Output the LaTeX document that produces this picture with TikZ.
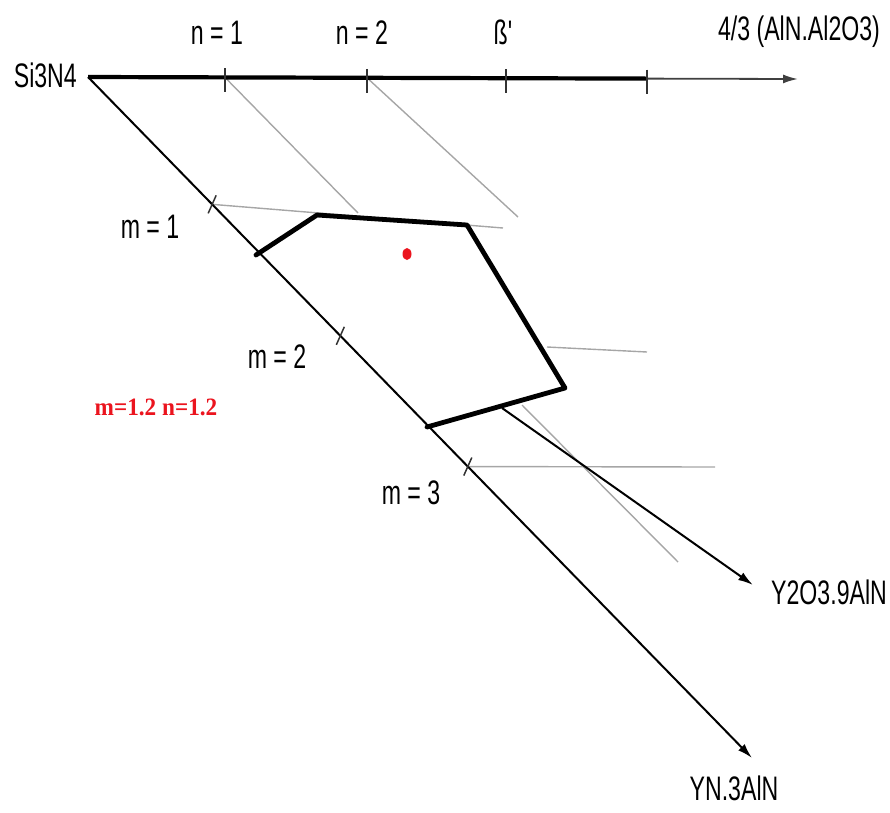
\documentclass[tikz,border=0pt]{standalone}
\usepackage{fontspec}
\setmainfont{Liberation Sans}
\newfontfamily\condsans[FakeStretch=0.68]{Liberation Sans}
\newfontfamily\redserif[FakeStretch=0.93]{Liberation Serif}
\usetikzlibrary{arrows.meta,calc}
\definecolor{redlbl}{RGB}{235,20,30}
\begin{document}
\begin{tikzpicture}[x=1pt,y=-1pt,
  lbl/.style={inner sep=0pt,font=\condsans\fontsize{34}{34}\selectfont},
  redtxt/.style={inner sep=0pt,text=redlbl,font=\redserif\bfseries\fontsize{25}{25}\selectfont},
  axisthick/.style={line width=4.2pt},
  axisthin/.style={line width=1.8pt,draw=black!75},
  diag/.style={line width=2pt},
  guide/.style={line width=1.4pt,draw=black!35},
  tickmark/.style={line width=1.5pt,draw=black!80},
  phase/.style={line width=4.8pt,line join=round,line cap=round},
  arr/.style={-{Latex[length=15pt,width=9pt]}},
]
\useasboundingbox (0,0) rectangle (890,812);

% main points
\coordinate (O) at (88,77);
\coordinate (Aend) at (798,79);
\coordinate (Dend) at (752,758);
\coordinate (h1) at (225,77.4);
\coordinate (h2) at (367,77.8);
\coordinate (h3) at (506,78.2);
\coordinate (h4) at (647,78.6);
\coordinate (m1) at ($(O)!0.187!(Dend)$);
\coordinate (m2) at ($(O)!0.380!(Dend)$);
\coordinate (m3) at ($(O)!0.572!(Dend)$);

% guide lines
\coordinate (g1e) at (358,213);
\coordinate (g2e) at (518,217);
\coordinate (g3e) at (503,228);
\coordinate (g4s) at (547,347);
\coordinate (g4e) at (647,352);
\coordinate (g5e) at (715,467);
\coordinate (g6s) at (522,405);
\coordinate (g6e) at (678,562);
\draw[guide] (h1) -- (g1e);
\draw[guide] (h2) -- (g2e);
\draw[guide] (m1) -- (g3e);
\draw[guide] (g4s) -- (g4e);
\draw[guide] (m3) -- (g5e);
\draw[guide] (g6s) -- (g6e);

% axes
\draw[axisthin,arr] (h4) -- (Aend);
\draw[axisthick] (O) -- (h4);
\draw[diag,arr] (O) -- (Dend);

% ticks
\foreach \t in {h1,h2,h3,h4}
  \draw[tickmark] ($(\t)+(0,-9)$) -- ($(\t)+(0,15)$);
\foreach \t in {m1,m2,m3}
  \draw[tickmark] ($(\t)+(-4,9)$) -- ($(\t)+(4,-9)$);

% phase region
\coordinate (P1) at (256,255);
\coordinate (P2) at (317,215);
\coordinate (P3) at (467,225);
\coordinate (P4) at (565,388);
\coordinate (P5) at (427,427);
\draw[phase] (P1) -- (P2) -- (P3) -- (P4) -- (P5);

% arrow to Y2O3.9AlN
\coordinate (Ys) at (502,408);
\coordinate (Ye) at (753,585);
\draw[diag,arr] (Ys) -- (Ye);

% red point
\fill[redlbl] (407,254) ellipse [x radius=4.5pt, y radius=6pt];

% labels
\node[lbl,anchor=east] (si) at (77,75) {Si3N4};
\node[lbl] (n1) at (217,33) {n = 1};
\node[lbl] (n2) at (362,33) {n = 2};
\node[lbl] (beta) at (503,32) {ß'};
\node[lbl] (alon) at (799,32) {4/3 (AlN.Al2O3)};
\node[lbl] (lm1) at (150,227) {m = 1};
\node[lbl] (lm2) at (277,357) {m = 2};
\node[lbl] (lm3) at (411,493) {m = 3};
\node[lbl,anchor=west] (y2o3) at (771,592) {Y2O3.9AlN};
\node[lbl] (yn) at (734,788) {YN.3AlN};
\node[redtxt] (mn) at (156,407) {m=1.2 n=1.2};
\end{tikzpicture}
\end{document}
